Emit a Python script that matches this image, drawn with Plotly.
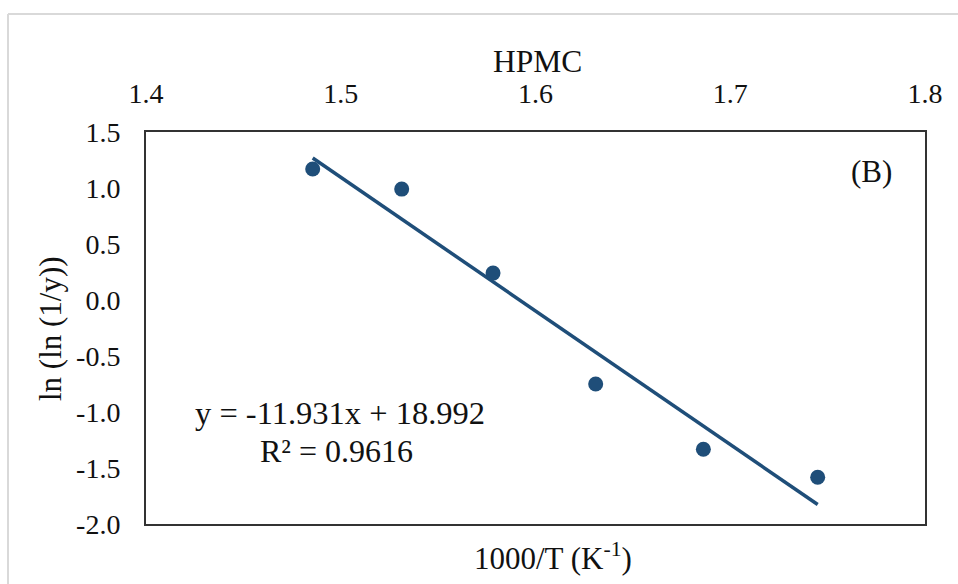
import plotly.graph_objects as go

# Data
x_vals = [1.4856, 1.5313, 1.5782, 1.6309, 1.6862, 1.7449]
y_vals = [1.17, 0.99, 0.24, -0.75, -1.333, -1.583]
slope = -11.931
intercept = 18.992
x_ticks = [1.4, 1.5, 1.6, 1.7, 1.8]
x_ticktext = ["1.4", "1.5", "1.6", "1.7", "1.8"]
y_ticks = [-2.0, -1.5, -1.0, -0.5, 0.0, 0.5, 1.0, 1.5]
y_ticktext = ["-2.0", "-1.5", "-1.0", "-0.5", "0.0", "0.5", "1.0", "1.5"]

W, H = 958, 584
L, R, T, B = 146, 925, 132, 524

def px(x):
    return (x - L) / (R - L)

def py(y):
    return (B - y) / (B - T)

FONT = "Liberation Serif"
TXT = "#111111"
BLUE = "#1f4e79"

trend_x = [min(x_vals), max(x_vals)]
trend_y = [slope * v + intercept for v in trend_x]

fig = go.Figure()
fig.add_trace(go.Scatter(x=trend_x, y=trend_y, mode="lines",
                         line=dict(color=BLUE, width=3.5), showlegend=False,
                         hoverinfo="skip"))
fig.add_trace(go.Scatter(x=x_vals, y=y_vals, mode="markers",
                         marker=dict(color=BLUE, size=15), showlegend=False))

fig.update_layout(
    width=W, height=H,
    margin=dict(l=L, r=W - R, t=T, b=H - B, pad=0),
    paper_bgcolor="white", plot_bgcolor="white",
    font=dict(family=FONT, color=TXT, size=28),
    xaxis=dict(side="top", range=[1.4, 1.8], tickvals=x_ticks, ticktext=x_ticktext,
               showgrid=False, zeroline=False, showline=True, mirror=True,
               linecolor="#333333", linewidth=2, ticks="", ticklabelstandoff=16,
               tickfont=dict(size=28, family=FONT, color=TXT)),
    yaxis=dict(range=[-2.0, 1.5], tickvals=y_ticks, ticktext=y_ticktext,
               showgrid=False, zeroline=False, showline=True, mirror=True,
               linecolor="#333333", linewidth=2, ticks="", ticklabelstandoff=18,
               tickfont=dict(size=28, family=FONT, color=TXT)),
    shapes=[
        dict(type="line", xref="paper", yref="paper", x0=px(8), x1=px(970), y0=py(14), y1=py(14),
             line=dict(color="#d9d9d9", width=2)),
        dict(type="line", xref="paper", yref="paper", x0=px(8), x1=px(8), y0=py(14), y1=py(600),
             line=dict(color="#d9d9d9", width=2)),
    ],
    annotations=[
        dict(text="HPMC", xref="paper", yref="paper", x=px(537), y=py(62),
             showarrow=False, font=dict(size=31.5, family=FONT, color=TXT),
             xanchor="center", yanchor="middle"),
        dict(text="1000/T (K<sup>-1</sup>)", xref="paper", yref="paper", x=px(553), y=py(556),
             showarrow=False, font=dict(size=31, family=FONT, color=TXT),
             xanchor="center", yanchor="middle"),
        dict(text="ln (ln (1/y))", xref="paper", yref="paper", x=px(50), y=py(329),
             showarrow=False, textangle=-90, font=dict(size=31, family=FONT, color=TXT),
             xanchor="center", yanchor="middle"),
        dict(text="y = -11.931x + 18.992", xref="paper", yref="paper", x=px(340), y=py(413),
             showarrow=False, font=dict(size=32.5, family=FONT, color=TXT),
             xanchor="center", yanchor="middle"),
        dict(text="R² = 0.9616", xref="paper", yref="paper", x=px(336.5), y=py(451),
             showarrow=False, font=dict(size=32, family=FONT, color=TXT),
             xanchor="center", yanchor="middle"),
        dict(text="(B)", xref="paper", yref="paper", x=px(871), y=py(171),
             showarrow=False, font=dict(size=31, family=FONT, color=TXT),
             xanchor="center", yanchor="middle"),
    ],
)

fig.write_html("out.html", config={"displayModeBar": False},
               post_script="document.body.style.margin='0';document.body.style.padding='0';")
